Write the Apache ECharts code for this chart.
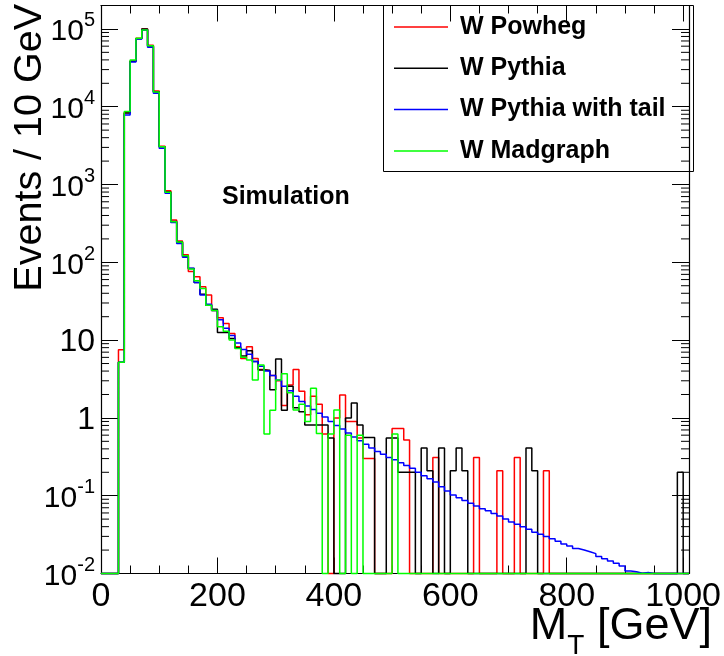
<!DOCTYPE html>
<html><head><meta charset="utf-8">
<script src="https://cdn.jsdelivr.net/npm/echarts@6/dist/echarts.min.js"></script>
<style>html,body{margin:0;padding:0;background:#fff}#c{width:724px;height:656px}</style>
</head><body><div id="c"></div>
<script>
// bin low edges (GeV), 10 GeV bins
const binLowEdges = [0,10,20,30,40,50,60,70,80,90,100,110,120,130,140,150,160,170,180,190,200,210,220,230,240,250,260,270,280,290,300,310,320,330,340,350,360,370,380,390,400,410,420,430,440,450,460,470,480,490,500,510,520,530,540,550,560,570,580,590,600,610,620,630,640,650,660,670,680,690,700,710,720,730,740,750,760,770,780,790,800,810,820,830,840,850,860,870,880,890,900,910,920,930,940,950,960,970,980,990,1000];
const xMax = 1010;
const xTickLabels = [0,200,400,600,800,1000];
const yDecades = [0.01,0.1,1,10,100,1000,10000,100000];
const yMin = 0.01, yMax = 200000;

const wPowheg = [0,0,0,7.5,8400,38500,75700,99800,61500,15900,3100,830,350,188,125,76,65,48.6,38,24,19.4,16.4,12.2,8.2,5.8,8.2,5.8,4.2,4.0,3.5,3.0,1.44,2.65,4.2,2.2,1.1,1.9,1.5,0.62,0,1.0,1.97,0.9,0.9,0.55,0.3,0.3,0,0,0,0.73,0.73,0.52,0,0,0,0,0.31,0,0,0,0,0,0,0.31,0,0,0,0.21,0,0,0.31,0,0,0,0,0.21,0,0,0,0,0,0,0,0,0,0,0,0,0,0,0,0,0,0,0,0,0,0,0,0];
const wPythia = [0,0,0,5.2,8300,38500,75000,99800,60500,15500,3050,800,335,182,120,83,55,39,28,25,12.5,12.5,10.5,8,6.25,7.3,5.3,4.13,4.1,2.3,5.7,1.25,2.55,1.35,1.2,0.81,0.81,0.81,0.81,0.55,0,0,1.0,1.55,0.81,0.56,0.56,0,0,0.55,0.55,0.2,0.2,0.2,0,0.41,0.21,0,0.41,0,0.21,0.41,0.21,0,0,0,0,0,0,0,0,0,0,0.41,0.21,0,0,0,0,0,0,0,0,0,0,0,0,0,0,0,0,0,0,0,0,0,0,0,0,0.2,0];
const wPythiaTail = [0,0,0,5.2,7800,37500,74000,96000,58000,14900,2920,770,325,175,116,84,55,38,29,24,18.3,14.2,11.5,9.2,7.6,6.6,5.3,4.6,4.0,3.5,3.07,2.55,2.24,1.9,1.62,1.42,1.28,1.15,1.03,0.9,0.8,0.72,0.64,0.57,0.51,0.46,0.41,0.37,0.34,0.31,0.29,0.265,0.245,0.225,0.2,0.18,0.165,0.15,0.13,0.115,0.102,0.094,0.087,0.08,0.074,0.068,0.064,0.059,0.055,0.05,0.046,0.043,0.04,0.037,0.034,0.032,0.03,0.028,0.026,0.024,0.0225,0.021,0.02,0.019,0.018,0.0165,0.0155,0.0145,0.0135,0.0125,0.0108,0.0105,0.0101,0.0103,0,0,0,0,0,0,0];
const wMadgraph = [0,0,0,5.2,8700,39800,75700,97000,60800,15500,3060,794,333,183,121,82,58,46,28,24,14.9,13,10,7.8,6,5.55,3.07,4.8,0.62,1.25,3.07,3.7,2.11,1.26,1.5,0.9,2.4,0.63,0,0.62,1.26,0,0.6,0,0.6,0,0,0,0,0,0.62,0,0,0,0,0,0,0,0,0,0,0,0,0,0,0,0,0,0,0,0,0,0,0,0,0,0,0,0,0,0,0,0,0,0,0,0,0,0,0,0,0,0,0,0,0,0,0,0,0,0];

const seriesNames = ['W Powheg','W Pythia','W Pythia with tail','W Madgraph'];
const seriesColors = ['#ff0000','#000000','#0000ff','#00ff00'];
const seriesValues = [wPowheg, wPythia, wPythiaTail, wMadgraph];

const FONT = "'Liberation Sans', Arial, Helvetica, sans-serif";

function histPoints(vals){
  const pts = binLowEdges.map((x,i)=>[x, vals[i] > 0 ? vals[i] : yMin]);
  const last = vals[vals.length-1];
  pts.push([xMax, last > 0 ? last : yMin]);
  return pts;
}

const yMinorTicks = [];
yDecades.forEach(d => { for (let k=2;k<=9;k++){ const v=k*d; if (v < yMax) yMinorTicks.push(v); } });

const chart = echarts.init(document.getElementById('c'), null, {renderer:'canvas'});

const xAxisCommon = {
  type:'value', min:0, max:xMax, interval:200,
  axisLine:{show:true, onZero:false, lineStyle:{color:'#000', width:1.2}},
  axisTick:{show:true, inside:true, length:16, lineStyle:{color:'#000', width:1}},
  minorTick:{show:true, splitNumber:4, length:8, lineStyle:{color:'#000', width:1}},
  splitLine:{show:false}, minorSplitLine:{show:false}
};
const yAxisCommon = {
  type:'log', logBase:10, min:yMin, max:yMax, interval:1,
  axisLine:{show:true, onZero:false, lineStyle:{color:'#000', width:1.2}},
  axisTick:{show:true, inside:true, length:17, lineStyle:{color:'#000', width:1}},
  splitLine:{show:false}
};

const series = seriesNames.map((name,i)=>({
  name, type:'line', step:'end', showSymbol:false, symbol:'none', clip:false,
  data: histPoints(seriesValues[i]),
  lineStyle:{color:seriesColors[i], width:1.5},
  itemStyle:{color:seriesColors[i]},
  animation:false, z: 2+i
}));

series.push({
  type:'custom', silent:true, clip:false, animation:false, z:10,
  data: yMinorTicks.map(v=>[0,v]),
  renderItem:(params, api)=>{
    const v = api.value(1);
    const pl = api.coord([0, v]);
    const pr = api.coord([xMax, v]);
    return {type:'group', children:[
      {type:'line', shape:{x1:pl[0], y1:pl[1], x2:pl[0]+8, y2:pl[1]}, style:{stroke:'#000', lineWidth:1}},
      {type:'line', shape:{x1:pr[0], y1:pr[1], x2:pr[0]-8, y2:pr[1]}, style:{stroke:'#000', lineWidth:1}}
    ]};
  }
});

chart.setOption({
  animation:false,
  backgroundColor:'#fff',
  grid:{left:101, top:5.5, right:31.3, bottom:82.5, containLabel:false},
  xAxis:[
    Object.assign({}, xAxisCommon, {position:'bottom',
      axisLabel:{show:true, margin:6, fontSize:34, color:'#000', fontFamily:FONT,
        showMaxLabel:false,
        formatter:(v)=> xTickLabels.indexOf(v) >= 0 ? String(v) : ''}}),
    Object.assign({}, xAxisCommon, {position:'top', axisLabel:{show:false}})
  ],
  yAxis:[
    Object.assign({}, yAxisCommon, {position:'left',
      axisLabel:{show:true, margin:6, color:'#000', fontFamily:FONT, fontSize:32, showMaxLabel:false,
        formatter:(v)=>{
          const e = Math.round(Math.log10(v));
          if (Math.abs(v - Math.pow(10,e))/v > 1e-6) return '';
          if (v > yMax*0.99) return '';
          if (e === 0) return '{n|1}';
          if (e === 1) return '{n|10}';
          return '{b|10}{s|' + e + '}';
        },
        rich:{
          n:{fontSize:32, fontFamily:FONT, color:'#000', lineHeight:36, verticalAlign:'bottom'},
          b:{fontSize:30, fontFamily:FONT, color:'#000', lineHeight:36, verticalAlign:'bottom'},
          s:{fontSize:20, fontFamily:FONT, color:'#000', lineHeight:20, verticalAlign:'top'}
        }}}),
    Object.assign({}, yAxisCommon, {position:'right', axisLabel:{show:false}})
  ],
  legend:{
    orient:'vertical', left:394, top:12, itemWidth:54, itemHeight:1.5, itemGap:11.3,
    icon:'rect', selectedMode:false, padding:0,
    textStyle:{fontFamily:FONT, fontWeight:'bold', fontSize:25, color:'#000', lineHeight:30, padding:[0,0,0,7]},
    data: seriesNames
  },
  graphic:[
    {type:'rect', left:383, top:5, z:0, silent:true,
      shape:{x:0,y:0,width:310,height:166}, style:{fill:'#fff', stroke:'#000', lineWidth:1}},
    {type:'text', x:222, y:197, silent:true,
      style:{text:'Simulation', font:'bold 25px ' + FONT, fill:'#000', align:'left', verticalAlign:'middle'}},
    {type:'text', x:30, y:4, rotation:Math.PI/2, silent:true,
      style:{text:'Events / 10 GeV', font:'39.5px ' + FONT, fill:'#000', align:'right', verticalAlign:'middle'}},
    {type:'text', right:12, top:604, silent:true,
      style:{text:'{m|M}{t|T}{m| [GeV]}', fill:'#000',
        rich:{
          m:{fontSize:45, fontFamily:FONT, lineHeight:56, verticalAlign:'top', fill:'#000'},
          t:{fontSize:28, fontFamily:FONT, lineHeight:28, verticalAlign:'bottom', fill:'#000'}
        }}}
  ],
  series
});
</script>
</body></html>
